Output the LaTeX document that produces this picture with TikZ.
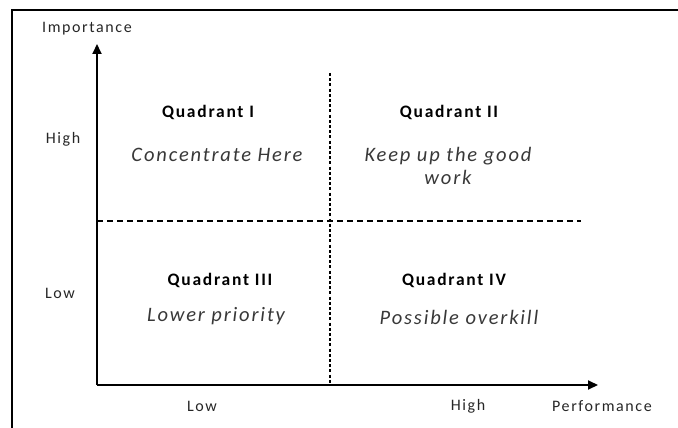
\documentclass[tikz,border=0pt]{standalone}
\usepackage{fontspec}
\setmainfont{Carlito}
\usetikzlibrary{arrows.meta}
\begin{document}
\begin{tikzpicture}[x=1pt,y=-1pt,
  axislabel/.style={inner sep=0pt,text=black!85,font=\fontsize{16}{18}\selectfont\addfontfeatures{LetterSpace=10}},
  quadtitle/.style={inner sep=0pt,text=black,font=\fontsize{17.5}{20}\selectfont\bfseries\addfontfeatures{LetterSpace=10}},
  quadtext/.style={inner sep=0pt,text=black!78,align=center,font=\fontsize{20.5}{23}\selectfont\itshape\addfontfeatures{LetterSpace=9}},
  axis/.style={line width=2pt,-{Triangle[length=10pt,width=9pt]}},
  frameline/.style={line width=1.6pt},
]
\useasboundingbox (0,0) rectangle (678,428);
% frame (cropped)
\coordinate (fTL) at (12,10);
\coordinate (fTR) at (678,10);
\coordinate (fBL) at (12,428);
\draw[frameline] (fBL) -- (fTL) -- (fTR);
% axes
\coordinate (O) at (97,385);
\coordinate (Ytop) at (97,44);
\coordinate (Xend) at (598,385);
\draw[axis] (O) -- (Ytop);
\draw[axis] (O) -- (Xend);
% dividers
\coordinate (vTop) at (330,73);
\coordinate (vBot) at (330,384);
\draw[line width=1.9pt,dash pattern=on 3pt off 2.2pt] (vTop) -- (vBot);
\coordinate (hL) at (97,221);
\coordinate (hR) at (581,221);
\draw[line width=1.5pt,dash pattern=on 6pt off 4pt] (hL) -- (hR);
% axis labels
\node[axislabel] (imp) at (87,29) {Importance};
\node[axislabel] (yhigh) at (63,139) {High};
\node[axislabel] (ylow) at (60,293) {Low};
\node[axislabel] (xlow) at (202,406) {Low};
\node[axislabel] (xhigh) at (468,406) {High};
\node[axislabel] (perf) at (602,406) {Performance};
% quadrants
\node[quadtitle] (q1) at (208,112) {Quadrant I};
\node[quadtext] (t1) at (217,155) {Concentrate Here};
\node[quadtitle] (q2) at (449,112) {Quadrant II};
\node[quadtext] (t2) at (448,166) {Keep up the good\\work};
\node[quadtitle] (q3) at (220,280) {Quadrant III};
\node[quadtext] (t3) at (216,316) {Lower priority};
\node[quadtitle] (q4) at (454,280) {Quadrant IV};
\node[quadtext] (t4) at (459,317) {Possible overkill};
\end{tikzpicture}
\end{document}
